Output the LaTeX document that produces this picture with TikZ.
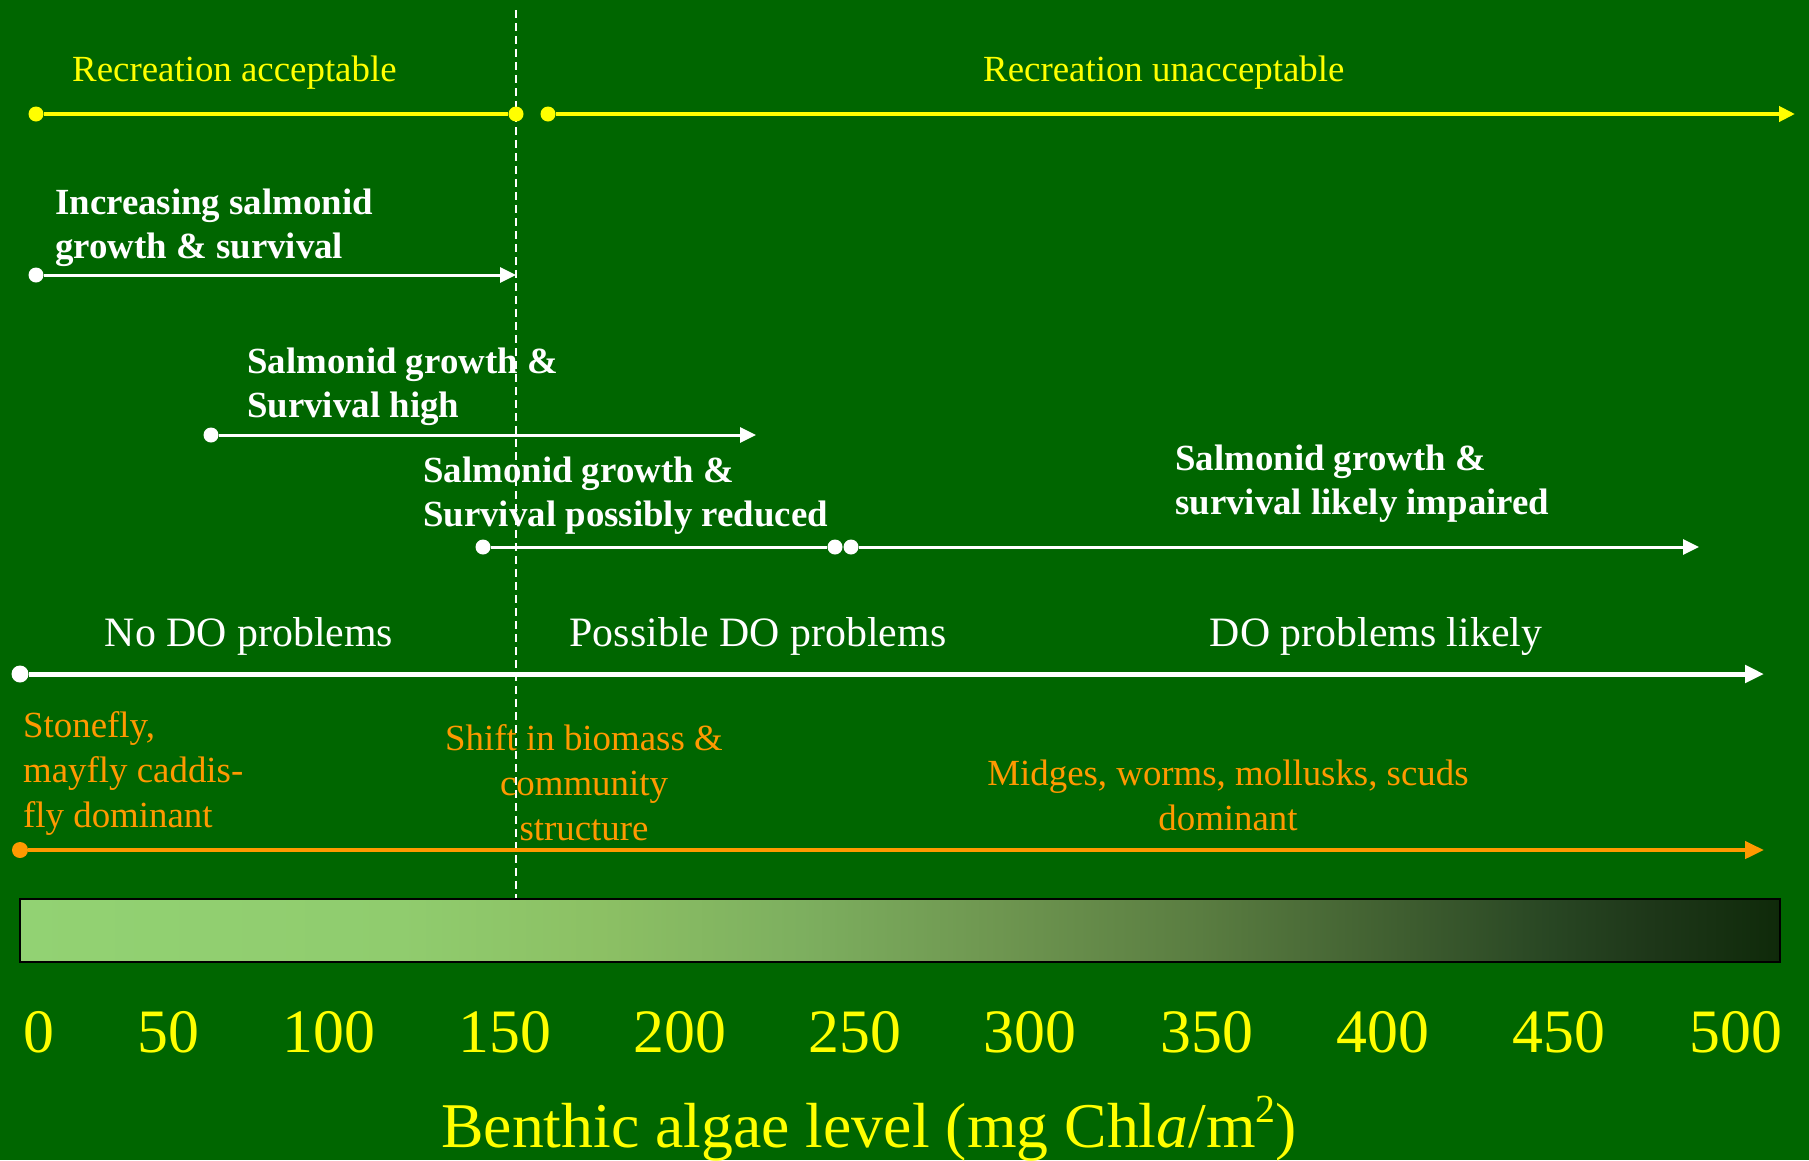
\documentclass[tikz,border=0pt]{standalone}
\usepackage{fontspec}
\setmainfont{Liberation Serif}
\usetikzlibrary{arrows.meta}
\definecolor{bg}{RGB}{0,102,0}
\definecolor{yel}{RGB}{255,255,0}
\definecolor{org}{RGB}{255,153,0}
\definecolor{g1}{RGB}{146,210,115}
\definecolor{g2}{RGB}{144,204,110}
\definecolor{g3}{RGB}{140,192,100}
\definecolor{g4}{RGB}{125,175,95}
\definecolor{g5}{RGB}{110,150,80}
\definecolor{g6}{RGB}{90,125,65}
\definecolor{g7}{RGB}{63,94,48}
\definecolor{g8}{RGB}{40,70,35}
\definecolor{g9}{RGB}{30,55,25}
\definecolor{g10}{RGB}{15,42,10}
\pgfdeclarehorizontalshading{barshade}{100bp}{color(0bp)=(g1); color(25bp)=(g1); color(35.8bp)=(g2); color(41.5bp)=(g3); color(47.2bp)=(g4); color(52.8bp)=(g5); color(58.5bp)=(g6); color(64.2bp)=(g7); color(68.5bp)=(g8); color(71.3bp)=(g9); color(75bp)=(g10); color(100bp)=(g10)}
\tikzset{
  dotY/.style={circle,fill=yel,inner sep=0,minimum size=15bp},
  dotW/.style={circle,fill=white,inner sep=0,minimum size=15bp},
  dotWL/.style={circle,fill=white,inner sep=0,minimum size=17bp},
  dotO/.style={circle,fill=org,inner sep=0,minimum size=16bp},
  lineY/.style={draw=yel,line width=4bp},
  lineW/.style={draw=white,line width=3bp},
  lineWL/.style={draw=white,line width=5bp},
  lineO/.style={draw=org,line width=4.5bp},
  tipS/.style={-{Triangle[length=16bp,width=15bp]}},
  tipL/.style={-{Triangle[length=19bp,width=17bp]}},
  txt/.style={inner sep=0,font=\fontsize{37}{45}\selectfont},
  txtB/.style={inner sep=0,font=\fontsize{37}{44}\selectfont\bfseries,text=white,align=left},
  txtDO/.style={inner sep=0,font=\fontsize{42}{50}\selectfont,text=white},
  txtO/.style={inner sep=0,font=\fontsize{37}{45}\selectfont,text=org},
  num/.style={inner sep=0,font=\fontsize{62}{70}\selectfont,text=yel,anchor=base},
}
\begin{document}
\begin{tikzpicture}[x=1bp,y=-1bp]
\useasboundingbox (0,0) rectangle (1809,1160);
\fill[bg] (0,0) rectangle (1809,1160);
% dashed reference line
\coordinate (dt) at (516,10);
\coordinate (db) at (516,899);
\draw[white,line width=1.6bp,dash pattern=on 8bp off 5bp] (dt) -- (db);
% recreation
\node[txt,text=yel,anchor=base west] (ra) at (72,81) {Recreation acceptable};
\node[txt,text=yel,anchor=base west] (ru) at (983,81) {Recreation unacceptable};
\node[dotY] (y1) at (36,114) {};
\node[dotY] (y2) at (516,114) {};
\node[dotY] (y3) at (548,114) {};
\coordinate (ye) at (1795,114);
\draw[lineY] (y1) -- (y2);
\draw[lineY,tipS] (y3) -- (ye);
% salmonid 1 (base anchor = last line)
\node[txtB,anchor=base west] (s1) at (55,258) {Increasing salmonid\\growth \& survival};
\node[dotW] (w1) at (36,275) {};
\coordinate (w1e) at (516,275);
\draw[lineW,tipS] (w1) -- (w1e);
% salmonid 2
\node[txtB,anchor=base west] (s2) at (247,417) {Salmonid growth \&\\Survival high};
\node[dotW] (w2) at (211,435) {};
\coordinate (w2e) at (756,435);
\draw[lineW,tipS] (w2) -- (w2e);
% salmonid 3
\node[txtB,anchor=base west] (s3) at (423,526) {Salmonid growth \&\\Survival possibly reduced};
\node[dotW] (w3) at (483,547) {};
\node[dotW] (w4) at (835,547) {};
\node[dotW] (w5) at (851,547) {};
\coordinate (w5e) at (1699,547);
\draw[lineW] (w3) -- (w4);
\draw[lineW,tipS] (w5) -- (w5e);
% salmonid 4
\node[txtB,anchor=base west] (s4) at (1175,514) {Salmonid growth \&\\survival likely impaired};
% DO
\node[txtDO,anchor=base] (d1) at (249,646) {No DO problems};
\node[txtDO,anchor=base] (d2) at (758,646) {Possible DO problems};
\node[txtDO,anchor=base] (d3) at (1376,646) {DO problems likely};
\node[dotWL] (dw) at (20,674) {};
\coordinate (dwe) at (1764,674);
\draw[lineWL,tipL] (dw) -- (dwe);
% invertebrates
\node[txtO,anchor=base west,align=left] (o1) at (23,827) {Stonefly,\\mayfly caddis-\\fly dominant};
\node[txtO,anchor=base,align=center] (o2) at (584,840) {Shift in biomass \&\\community\\structure};
\node[txtO,anchor=base,align=center] (o3) at (1228,830) {Midges, worms, mollusks, scuds\\dominant};
\node[dotO] (od) at (20,850) {};
\coordinate (ode) at (1764,850);
\draw[lineO,tipL] (od) -- (ode);
% bar
\path[shading=barshade,draw=black,line width=2bp] (20,899) rectangle (1780,962);
% numbers
\node[num] (n0) at (39,1052) {0};
\node[num] (n50) at (168,1052) {50};
\node[num] (n100) at (329,1052) {100};
\node[num] (n150) at (505,1052) {150};
\node[num] (n200) at (680,1052) {200};
\node[num] (n250) at (855,1052) {250};
\node[num] (n300) at (1030,1052) {300};
\node[num] (n350) at (1207,1052) {350};
\node[num] (n400) at (1383,1052) {400};
\node[num] (n450) at (1559,1052) {450};
\node[num] (n500) at (1736,1052) {500};
\node[inner sep=0,font=\fontsize{64}{70}\selectfont,text=yel,anchor=base] (ax) at (869,1147) {Benthic algae level (mg Chl\textit{a}/m\raisebox{0.38em}{\fontsize{40}{40}\selectfont 2})};
\end{tikzpicture}
\end{document}
